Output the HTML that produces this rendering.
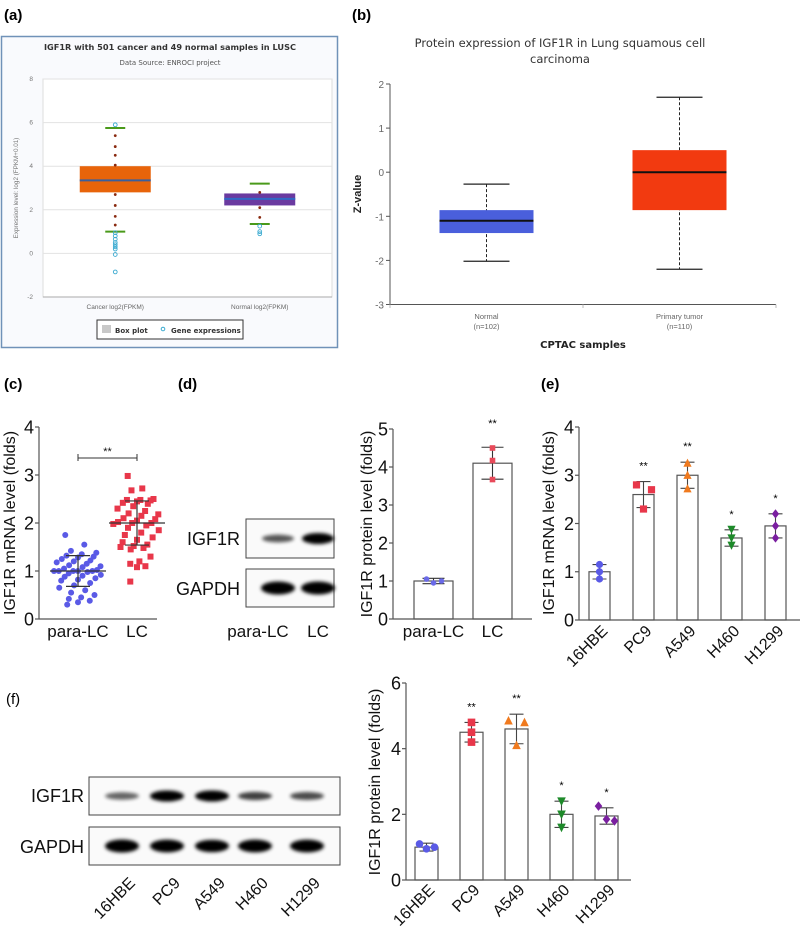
<!DOCTYPE html>
<html><head><meta charset="utf-8">
<style>
html,body{margin:0;padding:0;background:#fff;}
svg{display:block;font-family:"Liberation Sans",Arial,sans-serif;}
</style></head>
<body>
<svg id="fig" width="800" height="930" viewBox="0 0 800 930" xmlns="http://www.w3.org/2000/svg">
<defs>
<filter id="blur1" x="-30%" y="-80%" width="160%" height="260%"><feGaussianBlur stdDeviation="1.8"/></filter>
</defs>
</svg>
<script>
// ---------- Panel (a) data ----------
var aCategories = ["Cancer log2(FPKM)", "Normal log2(FPKM)"];
var aQ1 = [2.8, 2.2];
var aQ3 = [4.0, 2.75];
var aMedian = [3.35, 2.5];
var aWhiskHi = [5.75, 3.2];
var aWhiskLo = [1.0, 1.35];
var aDotsCancer = [5.4, 4.9, 4.5, 4.05, 2.7, 2.2, 1.7, 1.3];
var aDotsNormal = [2.8, 2.1, 1.65];
var aOutCancer = [5.9, 0.95, 0.8, 0.65, 0.5, 0.4, 0.3, 0.2, -0.05, -0.85];
var aOutNormal = [1.25, 1.0, 0.9];
var aTicks = [-2, 0, 2, 4, 6, 8];
// ---------- Panel (b) data ----------
var bCategories = ["Normal", "Primary tumor"];
var bCounts = ["(n=102)", "(n=110)"];
var bQ1 = [-1.38, -0.86];
var bQ3 = [-0.86, 0.5];
var bMedian = [-1.1, 0.0];
var bWhiskHi = [-0.27, 1.7];
var bWhiskLo = [-2.02, -2.2];
var bTicks = [-3, -2, -1, 0, 1, 2];
// ---------- Panel (c) data ----------
var cCategories = ["para-LC", "LC"];
var cParaLC = [1.75,1.55,1.42,1.38,1.35,1.32,1.3,1.28,1.25,1.22,1.2,1.18,1.15,1.12,1.1,1.08,1.05,1.02,1.0,1.0,1.0,1.0,1.0,0.98,0.95,0.92,0.9,0.88,0.85,0.82,0.8,0.75,0.7,0.65,0.6,0.55,0.5,0.45,0.42,0.38,0.35,0.3];
var cLC = [2.98,2.72,2.68,2.5,2.48,2.48,2.47,2.45,2.42,2.4,2.35,2.3,2.25,2.2,2.18,2.15,2.1,2.08,2.05,2.02,2.0,2.0,1.98,1.95,1.9,1.85,1.8,1.75,1.7,1.65,1.6,1.55,1.52,1.5,1.48,1.45,1.3,1.2,1.15,1.1,1.08,0.78];
var cMean = [1.0, 2.0];
var cSD = [0.32, 0.46];
var cTicks = [0, 1, 2, 3, 4];
// ---------- Panel (d) data ----------
var dCategories = ["para-LC", "LC"];
var dMeans = [1.0, 4.1];
var dSD = [0.07, 0.42];
var dPoints = [[1.05, 0.95, 1.0], [4.5, 4.17, 3.67]];
var dStars = ["", "**"];
var dTicks = [0, 1, 2, 3, 4, 5];
// ---------- Panel (e) data ----------
var eCategories = ["16HBE", "PC9", "A549", "H460", "H1299"];
var eMeans = [1.0, 2.6, 3.0, 1.7, 1.95];
var eSD = [0.15, 0.27, 0.27, 0.17, 0.25];
var ePoints = [[1.15, 1.0, 0.85], [2.8, 2.7, 2.3], [3.25, 3.0, 2.72], [1.88, 1.7, 1.55], [2.2, 1.95, 1.7]];
var eStars = ["", "**", "**", "*", "*"];
var eTicks = [0, 1, 2, 3, 4];
// ---------- Panel (f) data ----------
var fCategories = ["16HBE", "PC9", "A549", "H460", "H1299"];
var fMeans = [1.0, 4.5, 4.6, 2.0, 1.95];
var fSD = [0.12, 0.3, 0.45, 0.4, 0.25];
var fPoints = [[1.1, 0.95, 1.0], [4.8, 4.5, 4.2], [4.85, 4.8, 4.1], [2.4, 2.0, 1.6], [2.25, 1.85, 1.8]];
var fStars = ["", "**", "**", "*", "*"];
var fTicks = [0, 2, 4, 6];
var fBlotIGF1R = [0.35, 1.0, 1.0, 0.5, 0.45];
var fBlotGAPDH = [1.0, 0.95, 0.9, 0.95, 0.95];
var dBlotIGF1R = [0.4, 1.0];
var dBlotGAPDH = [1.0, 1.0];

var NS = "http://www.w3.org/2000/svg";
var svg = document.getElementById("fig");
function mk(tag, attrs, parent) {
  var e = document.createElementNS(NS, tag);
  for (var k in attrs) e.setAttribute(k, attrs[k]);
  (parent || svg).appendChild(e);
  return e;
}
function txt(s, attrs, parent) { var t = mk("text", attrs, parent); t.textContent = s; return t; }
function lin(yv, y0, y1, p0, p1) { return function (v) { return p0 + (v - y0) / (y1 - y0) * (p1 - p0); }; }

var colors = ["#5a5ae6", "#e8374a", "#f07a1e", "#1e8a2a", "#7a1fa0"];
function marker(kind, x, y, color, g, sz) {
  var s = sz || 4.2, e;
  if (kind === 0) e = mk("circle", {cx: x, cy: y, r: s, fill: color}, g);
  else if (kind === 1) e = mk("rect", {x: x - s, y: y - s, width: 2 * s, height: 2 * s, fill: color}, g);
  else if (kind === 2) e = mk("polygon", {points: (x) + "," + (y - s - 1) + " " + (x - s - 0.5) + "," + (y + s) + " " + (x + s + 0.5) + "," + (y + s), fill: color}, g);
  else if (kind === 3) e = mk("polygon", {points: (x) + "," + (y + s + 1) + " " + (x - s - 0.5) + "," + (y - s) + " " + (x + s + 0.5) + "," + (y - s), fill: color}, g);
  else e = mk("polygon", {points: x + "," + (y - s - 1) + " " + (x + s) + "," + y + " " + x + "," + (y + s + 1) + " " + (x - s) + "," + y, fill: color}, g);
  return e;
}

var plabels = [["(a)", 4, 20], ["(b)", 352, 20], ["(c)", 4, 389], ["(d)", 178, 389], ["(e)", 541, 389]];
plabels.forEach(function (p) {
  var t = txt(p[0], {x: p[1], y: p[2], "font-size": 15, "font-weight": "bold"});
  
  
});
var tf = txt("(f)", {x: 6, y: 704, "font-size": 15});



// ================= Panel A =================
(function () {
  var g = mk("g", {});
  
  
  var frame = mk("rect", {x: 1.5, y: 36.5, width: 336, height: 311, fill: "#f9fafd", stroke: "#7092b8", "stroke-width": 1.5}, g);
  
  
  var t1 = txt("IGF1R with 501 cancer and 49 normal samples in LUSC", {x: 170, y: 50, "font-size": 8.2, "font-weight": "bold", "text-anchor": "middle", fill: "#333", "font-family": "DejaVu Sans, sans-serif"}, g);
  
  
  var t2 = txt("Data Source: ENROCI project", {x: 170, y: 65, "font-size": 7, "text-anchor": "middle", fill: "#555", "font-family": "DejaVu Sans, sans-serif"}, g);
  
  
  var L = 43, R = 332;
  var y = lin(0, -2, 8, 297, 79);
  var pa = mk("rect", {x: L, y: 79, width: R - L, height: 218, fill: "#fff", stroke: "#ddd"}, g);
  
  
  aTicks.forEach(function (v) {
    var gl = mk("line", {x1: L, x2: R, y1: y(v), y2: y(v), stroke: "#e2e2e2"}, g);
    
    
    var tl = txt(String(v), {x: 33, y: y(v) + 2, "font-size": 6.5, "text-anchor": "end", fill: "#777"}, g);
    
    
  });
  var ax = mk("line", {x1: L, x2: R, y1: 297, y2: 297, stroke: "#aaa"}, g);
  
  
  var yl = txt("Expression level: log2 (FPKM+0.01)", {x: 0, y: 0, "font-size": 6.3, "text-anchor": "middle", fill: "#777", transform: "translate(18,188) rotate(-90)"}, g);
  
  
  var bw = (R - L) / aCategories.length;
  var fills = ["#e8640a", "#6a3aa0"];
  var meds = ["#3a5f9e", "#2f69c4"];
  aCategories.forEach(function (c, i) {
    var cx = L + bw * (i + 0.5);
    var hb = 35.5;
    var box = mk("rect", {x: cx - hb, y: y(aQ3[i]), width: 2 * hb, height: y(aQ1[i]) - y(aQ3[i]), fill: fills[i]}, g);
    
    
    var md = mk("line", {x1: cx - hb, x2: cx + hb, y1: y(aMedian[i]), y2: y(aMedian[i]), stroke: meds[i], "stroke-width": 2}, g);
    
    
    [aWhiskHi[i], aWhiskLo[i]].forEach(function (w) {
      var wl = mk("line", {x1: cx - 10, x2: cx + 10, y1: y(w), y2: y(w), stroke: "#4a9a1a", "stroke-width": 2}, g);
      
      
    });
    (i ? aDotsNormal : aDotsCancer).forEach(function (v) {
      var d = mk("circle", {cx: cx, cy: y(v), r: 1.4, fill: "#8a2a10"}, g);
      
      
    });
    (i ? aOutNormal : aOutCancer).forEach(function (v) {
      var o = mk("circle", {cx: cx, cy: y(v), r: 1.9, fill: "none", stroke: "#3aaad0", "stroke-width": 0.9}, g);
      
      
    });
    var cl = txt(c, {x: cx, y: 309, "font-size": 6.5, "text-anchor": "middle", fill: "#666"}, g);
    
    
  });
  var lg = mk("rect", {x: 97, y: 320, width: 146, height: 19, fill: "#fff", stroke: "#333", "stroke-width": 1}, g);
  
  
  var ls = mk("rect", {x: 102, y: 325, width: 9, height: 8, fill: "#c8c8c8"}, g);
  
  
  var lt1 = txt("Box plot", {x: 115, y: 333, "font-size": 7, "font-weight": "bold", fill: "#333", "font-family": "DejaVu Sans, sans-serif"}, g);
  
  
  var lc = mk("circle", {cx: 163, cy: 329, r: 1.8, fill: "none", stroke: "#3aaad0"}, g);
  
  
  var lt2 = txt("Gene expressions", {x: 171, y: 333, "font-size": 7, "font-weight": "bold", fill: "#333", "font-family": "DejaVu Sans, sans-serif"}, g);
  
  
})();

// ================= Panel B =================
(function () {
  var g = mk("g", {});
  
  
  var t1 = txt("Protein expression of IGF1R in Lung squamous cell", {x: 560, y: 47, "font-size": 11.5, "text-anchor": "middle", fill: "#333", "font-family": "DejaVu Sans, sans-serif"}, g);
  
  
  var t2 = txt("carcinoma", {x: 560, y: 63, "font-size": 11.5, "text-anchor": "middle", fill: "#333", "font-family": "DejaVu Sans, sans-serif"}, g);
  
  
  var L = 390, R = 776;
  var y = lin(0, -3, 2, 304.5, 84);
  var ya = mk("line", {x1: L, x2: L, y1: 84, y2: 304.5, stroke: "#555"}, g);
  
  
  var xa = mk("line", {x1: L, x2: R, y1: 304.5, y2: 304.5, stroke: "#555"}, g);
  
  
  bTicks.forEach(function (v) {
    var tk = mk("line", {x1: L - 4, x2: L, y1: y(v), y2: y(v), stroke: "#555"}, g);
    
    
    var tl = txt(String(v), {x: L - 6, y: y(v) + 4, "font-size": 10, "text-anchor": "end", fill: "#666"}, g);
    
    
  });
  var yl = txt("Z-value", {x: 0, y: 0, "font-size": 11, "font-weight": "bold", "text-anchor": "middle", fill: "#222", transform: "translate(361,194) rotate(-90)"}, g);
  
  
  var bw = (R - L) / bCategories.length;
  var fills = ["#4a5fdc", "#f23a10"];
  [L, L + bw, R].forEach(function (xx) {
    var tk = mk("line", {x1: xx, x2: xx, y1: 304.5, y2: 308, stroke: "#bbb"}, g);
    
    
  });
  bCategories.forEach(function (c, i) {
    var cx = L + bw * (i + 0.5);
    var hb = 47;
    var wt = mk("line", {x1: cx, x2: cx, y1: y(bWhiskHi[i]), y2: y(bWhiskLo[i]), stroke: "#222", "stroke-dasharray": "3,2"}, g);
    
    
    var box = mk("rect", {x: cx - hb, y: y(bQ3[i]), width: 2 * hb, height: y(bQ1[i]) - y(bQ3[i]), fill: fills[i]}, g);
    
    
    var md = mk("line", {x1: cx - hb, x2: cx + hb, y1: y(bMedian[i]), y2: y(bMedian[i]), stroke: "#111", "stroke-width": 2}, g);
    
    
    [bWhiskHi[i], bWhiskLo[i]].forEach(function (w) {
      var wl = mk("line", {x1: cx - 23, x2: cx + 23, y1: y(w), y2: y(w), stroke: "#222", "stroke-width": 1.2}, g);
      
      
    });
    var cl = txt(c, {x: cx, y: 319, "font-size": 7.5, "text-anchor": "middle", fill: "#666"}, g);
    
    
    var cn = txt(bCounts[i], {x: cx, y: 329, "font-size": 7.5, "text-anchor": "middle", fill: "#666"}, g);
    
    
  });
  var xl = txt("CPTAC samples", {x: L + bw, y: 348, "font-size": 10, "font-weight": "bold", "text-anchor": "middle", fill: "#222", "font-family": "DejaVu Sans, sans-serif"}, g);
  
  
})();

function prismAxis(g, L, R, y, ticks, fs, labelStr, lx, ly) {
  var y0 = y(ticks[0]), y1 = y(ticks[ticks.length - 1]);
  var ya = mk("line", {x1: L, x2: L, y1: y1, y2: y0, stroke: "#555", "stroke-width": 1.2}, g);
  
  
  var xa = mk("line", {x1: L, x2: R, y1: y0, y2: y0, stroke: "#555", "stroke-width": 1.2}, g);
  
  
  ticks.forEach(function (v) {
    var tk = mk("line", {x1: L - 4, x2: L, y1: y(v), y2: y(v), stroke: "#555", "stroke-width": 1.2}, g);
    
    
    var tl = txt(String(v), {x: L - 5, y: y(v) + fs * 0.36, "font-size": fs, "text-anchor": "end", fill: "#111"}, g);
    
    
  });
  var yl = txt(labelStr, {x: 0, y: 0, "font-size": fs - 2, "text-anchor": "middle", fill: "#111", transform: "translate(" + lx + "," + ly + ") rotate(-90)"}, g);
  
  
}

// ================= Panel C =================
(function () {
  var g = mk("g", {});
  
  
  var L = 39, R = 157;
  var y = lin(0, 0, 4, 619, 427);
  prismAxis(g, L, R, y, cTicks, 18, "IGF1R mRNA level (folds)", 15, 523);
  var cx = [78, 137];
  var series = [cParaLC, cLC];
  series.forEach(function (arr, s) {
    arr.forEach(function (v, i) {
      var j = (((i * 7) % 11) - 5) / 5;
      var spread = 24 * Math.max(0.35, 1 - Math.abs(v - cMean[s]) / 1.6);
      var p = marker(s === 0 ? 0 : 1, cx[s] + j * spread, y(v), s === 0 ? "#5a5ae6" : "#e8374a", g, 3);
      
      
    });
    var ml = mk("line", {x1: cx[s] - 28, x2: cx[s] + 28, y1: y(cMean[s]), y2: y(cMean[s]), stroke: "#333", "stroke-width": 1.2}, g);
    
    
    [cMean[s] + cSD[s], cMean[s] - cSD[s]].forEach(function (w) {
      var e = mk("line", {x1: cx[s] - 12, x2: cx[s] + 12, y1: y(w), y2: y(w), stroke: "#333", "stroke-width": 1.2}, g);
      
      
    });
    var ev = mk("line", {x1: cx[s], x2: cx[s], y1: y(cMean[s] + cSD[s]), y2: y(cMean[s] - cSD[s]), stroke: "#333", "stroke-width": 1.2}, g);
    
    
    var cl = txt(cCategories[s], {x: cx[s], y: 637, "font-size": 17, "text-anchor": "middle", fill: "#111"}, g);
    
    
  });
  var sb = mk("path", {d: "M78,454 V461 M78,458 H137 M137,454 V461", stroke: "#333", fill: "none", "stroke-width": 1}, g);
  
  
  var st = txt("**", {x: 107.5, y: 455, "font-size": 11, "text-anchor": "middle", fill: "#111"}, g);
  
  
})();

function blot(g, x, yTop, w, h, lanes, intens, bw, bh, name) {
  var r = mk("rect", {x: x, y: yTop, width: w, height: h, fill: "#fafafa", stroke: "#444", "stroke-width": 1}, g);
  
  
  lanes.forEach(function (lx, i) {
    var b = mk("ellipse", {cx: lx, cy: yTop + h / 2, rx: bw, ry: bh * (0.5 + 0.5 * intens[i]), fill: "#000", opacity: Math.min(1, 0.25 + intens[i]), filter: "url(#blur1)"}, g);
    
    
  });
}

// ================= Panel D =================
(function () {
  var g = mk("g", {});
  
  
  blot(g, 246, 519, 88, 39, [278, 318], dBlotIGF1R, 16, 5.5, 'igf1r-blot');
  blot(g, 246, 569, 88, 38, [278, 318], dBlotGAPDH, 17, 6.5, 'gapdh-blot');
  var a = txt("IGF1R", {x: 240, y: 545, "font-size": 18, "text-anchor": "end", fill: "#111"}, g);
  
  
  var b = txt("GAPDH", {x: 240, y: 595, "font-size": 18, "text-anchor": "end", fill: "#111"}, g);
  
  
  [["para-LC", 258], ["LC", 318]].forEach(function (p) {
    var t = txt(p[0], {x: p[1], y: 637, "font-size": 17, "text-anchor": "middle", fill: "#111"}, g);
    
    
  });

  var g2 = mk("g", {});
  
  
  var L = 393, R = 532;
  var y = lin(0, 0, 5, 619, 429);
  var cx = [433.5, 492.5];
  dCategories.forEach(function (c, i) {
    var bar = mk("rect", {x: cx[i] - 19.5, y: y(dMeans[i]), width: 39, height: y(0) - y(dMeans[i]), fill: "#fff", stroke: "#555", "stroke-width": 1.2}, g2);
    
    
  });
  prismAxis(g2, L, R, y, dTicks, 18, "IGF1R protein level (folds)", 372, 524);
  dCategories.forEach(function (c, i) {
    var hi = y(dMeans[i] + dSD[i]), lo = y(dMeans[i] - dSD[i]);
    var e = mk("path", {d: "M" + cx[i] + "," + hi + " V" + lo + " M" + (cx[i] - 11) + "," + hi + " H" + (cx[i] + 11) + " M" + (cx[i] - 11) + "," + lo + " H" + (cx[i] + 11), stroke: "#333", fill: "none", "stroke-width": 1.1}, g2);
    
    
    dPoints[i].forEach(function (v, k) {
      var p = marker(i === 0 ? 0 : 1, cx[i] + (i === 0 ? [-7, 0, 8][k] : 0), y(v), i === 0 ? "#6a6ae8" : "#e84a5a", g2, 2.8);
      
      
    });
    if (dStars[i]) {
      var s = txt(dStars[i], {x: cx[i], y: y(dMeans[i] + dSD[i]) - 20, "font-size": 11, "text-anchor": "middle"}, g2);
      
      
    }
    var cl = txt(c, {x: cx[i], y: 637, "font-size": 17, "text-anchor": "middle", fill: "#111"}, g2);
    
    
  });
})();

function cellBars(g, L, R, y, ticks, cats, means, sd, pts, stars, x0, step, bw, fs, ylab, lx, ly, labY, offs, msz) {
  cats.forEach(function (c, i) {
    var cx = x0 + step * i;
    var bar = mk("rect", {x: cx - bw / 2, y: y(means[i]), width: bw, height: y(ticks[0]) - y(means[i]), fill: "#fff", stroke: "#555", "stroke-width": 1.2}, g);
    
    
  });
  prismAxis(g, L, R, y, ticks, fs, ylab, lx, ly);
  cats.forEach(function (c, i) {
    var cx = x0 + step * i;
    var hi = y(means[i] + sd[i]), lo = y(means[i] - sd[i]);
    var e = mk("path", {d: "M" + cx + "," + hi + " V" + lo + " M" + (cx - 7) + "," + hi + " H" + (cx + 7) + " M" + (cx - 7) + "," + lo + " H" + (cx + 7), stroke: "#444", fill: "none", "stroke-width": 1.1}, g);
    
    
    pts[i].forEach(function (v, k) {
      var p = marker(i, cx + offs[i][k], y(v), colors[i], g, msz);
      
      
    });
    if (stars[i]) {
      var s = txt(stars[i], {x: cx, y: hi - 12, "font-size": 11, "text-anchor": "middle"}, g);
      
      
    }
    var cl = txt(c, {x: 0, y: 0, "font-size": fs - 2, "text-anchor": "end", fill: "#111", transform: "translate(" + (cx + 9) + "," + labY + ") rotate(-45)"}, g);
    
    
  });
}

// ================= Panel E =================
(function () {
  var g = mk("g", {});
  
  
  var y = lin(0, 0, 4, 620, 427);
  var offs = [[0, 0, 0], [-7, 8, 0], [0, 0, 0], [0, 0, 0], [0, 0, 0]];
  cellBars(g, 579, 800, y, eTicks, eCategories, eMeans, eSD, ePoints, eStars, 599.5, 44, 21, 18, "IGF1R mRNA level (folds)", 554, 523, 632, offs, 3.6);
})();

// ================= Panel F =================
(function () {
  var g = mk("g", {});
  
  
  var lanes = [122, 167, 212, 255, 307];
  blot(g, 89, 777, 251, 38, lanes, fBlotIGF1R, 17, 5.5, 'igf1r-blot');
  blot(g, 89, 827, 251, 38, lanes, fBlotGAPDH, 17, 6.5, 'gapdh-blot');
  var a = txt("IGF1R", {x: 84, y: 802, "font-size": 18, "text-anchor": "end", fill: "#111"}, g);
  
  
  var b = txt("GAPDH", {x: 84, y: 853, "font-size": 18, "text-anchor": "end", fill: "#111"}, g);
  
  
  fCategories.forEach(function (c, i) {
    var t = txt(c, {x: 0, y: 0, "font-size": 16, "text-anchor": "end", fill: "#111", transform: "translate(" + (lanes[i] + 14) + ",884) rotate(-45)"}, g);
    
    
  });

  var g2 = mk("g", {});
  
  
  var y = lin(0, 0, 6, 880, 683);
  var offs = [[-7, 0, 8], [0, 0, 0], [-8, 8, 0], [0, 0, 0], [-8, 0, 8]];
  cellBars(g2, 406, 631, y, fTicks, fCategories, fMeans, fSD, fPoints, fStars, 426.5, 45, 23, 18, "IGF1R protein level (folds)", 380, 782, 891, offs, 3.8);
})();
</script>
</body></html>
